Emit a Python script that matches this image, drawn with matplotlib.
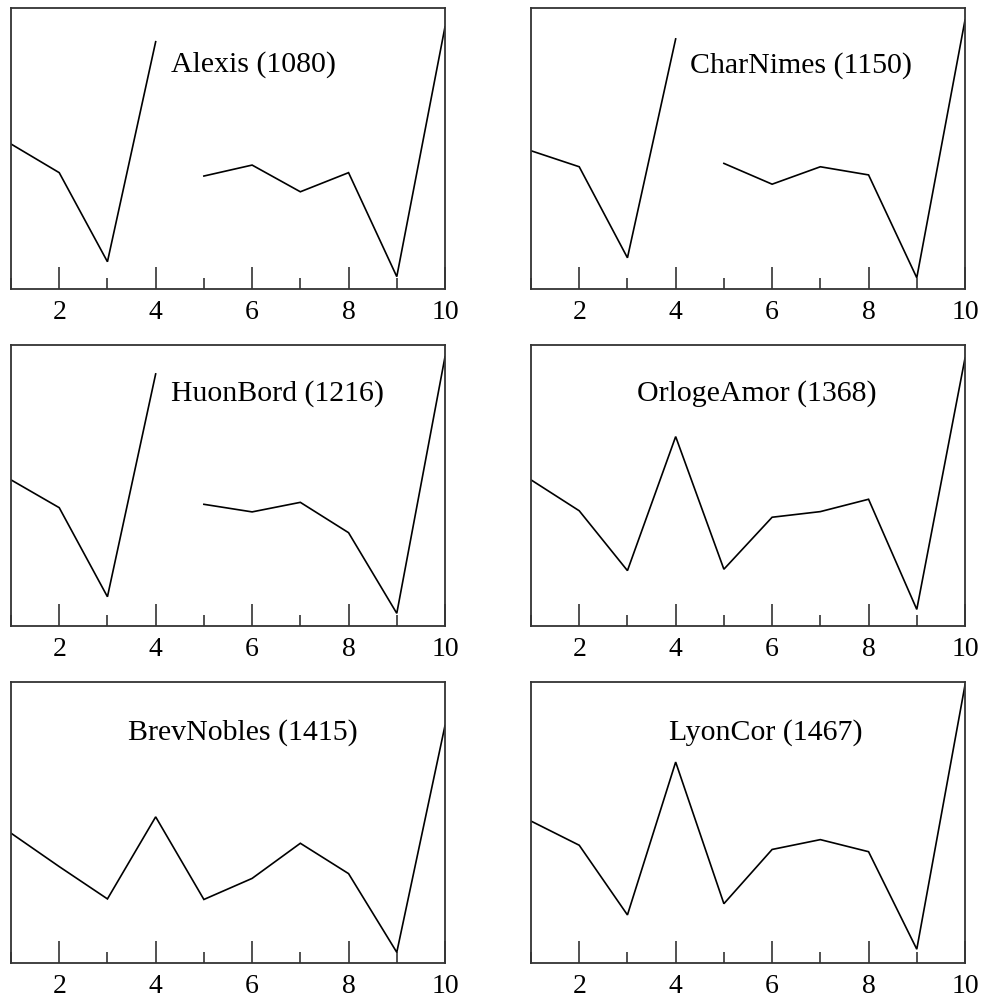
import matplotlib
matplotlib.use("Agg")
import matplotlib.pyplot as plt
from matplotlib.ticker import FixedLocator

plt.rcParams['font.family'] = ['Liberation Serif', 'DejaVu Serif']

positions = [1, 2, 3, 4, 5, 6, 7, 8, 9, 10]
tick_labels = ['2', '4', '6', '8', '10']
major_ticks = [2, 4, 6, 8, 10]
minor_ticks = [1, 3, 5, 7, 9]

names = ["Alexis (1080)", "CharNimes (1150)", "HuonBord (1216)",
         "OrlogeAmor (1368)", "BrevNobles (1415)", "LyonCor (1467)"]

alexis = [51.6, 41.4, 9.7, 88.0, 40.2, 44.1, 34.6, 41.4, 4.4, 93.3]
charnimes = [49.2, 43.5, 11.1, 89.0, 44.7, 37.3, 43.5, 40.6, 4.0, 95.7]
huonbord = [51.9, 42.0, 10.3, 89.6, 43.2, 40.5, 43.9, 33.1, 4.4, 95.7]
orlogeamor = [51.9, 40.9, 19.6, 67.3, 20.1, 38.6, 40.6, 45.0, 5.8, 95.2]
brevnobles = [46.1, 34.2, 22.7, 51.9, 22.5, 30.0, 42.5, 31.7, 3.7, 84.4]
lyoncor = [50.4, 41.8, 17.0, 71.4, 21.0, 40.3, 43.8, 39.5, 4.8, 98.8]

series = [alexis, charnimes, huonbord, orlogeamor, brevnobles, lyoncor]
# number of points before a break in the line (None = continuous)
break_after = [4, 4, 4, None, None, None]

# layout: label positions (x in data units, y in axes fraction, baseline)
label_pos = [(4.32, 0.773), (4.30, 0.770), (4.31, 0.801),
             (3.20, 0.800), (3.43, 0.794), (3.87, 0.794)]

W, H = 985, 998
fig = plt.figure(figsize=(W / 100, H / 100), dpi=100)

col_left = [11 / W, 531 / W]
ax_w = 434 / W
row_bottom = [1 - 289 / H, 1 - 625.7 / H, 1 - 962.7 / H]
ax_h = 281 / H

for i in range(6):
    r, c = divmod(i, 2)
    ax = fig.add_axes([col_left[c], row_bottom[r], ax_w, ax_h])
    y = series[i]
    b = break_after[i]
    if b is None:
        ax.plot(positions, y, color='black', lw=1.2, solid_joinstyle='miter')
    else:
        ax.plot(positions[:b], y[:b], color='black', lw=1.2, solid_joinstyle='miter')
        ax.plot(positions[b:], y[b:], color='black', lw=1.2, solid_joinstyle='miter')
    ax.set_xlim(1, 10)
    ax.set_ylim(0, 100)
    ax.set_yticks([])
    ax.xaxis.set_major_locator(FixedLocator(major_ticks))
    ax.set_xticklabels(tick_labels)
    ax.xaxis.set_minor_locator(FixedLocator(minor_ticks))
    ax.tick_params(axis='x', which='major', direction='in', length=16, width=1.1,
                   labelsize=20, pad=8, color='#222222')
    ax.tick_params(axis='x', which='minor', direction='in', length=8, width=1.1,
                   color='#222222')
    ax.tick_params(axis='x', top=False)
    for s in ax.spines.values():
        s.set_linewidth(1.3)
        s.set_color('#333333')
    lx, ly = label_pos[i]
    ax.text(lx, ly, names[i], transform=ax.get_xaxis_transform(),
            ha='left', va='baseline', fontsize=21.5)

fig.savefig("out.png", dpi=100)
